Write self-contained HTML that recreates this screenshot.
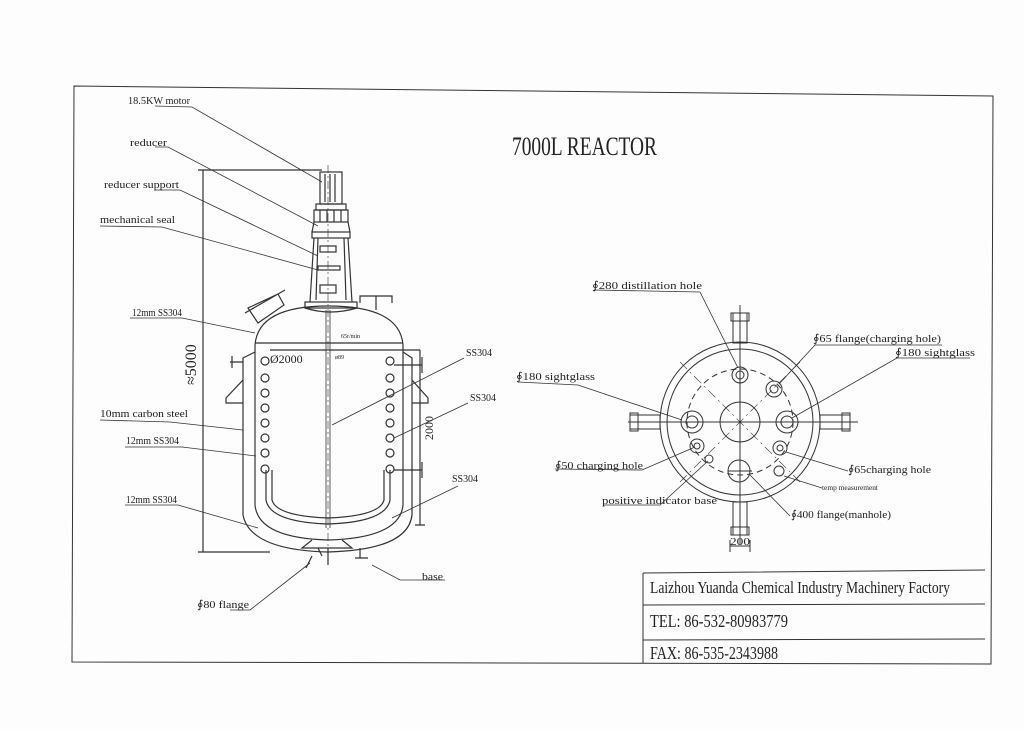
<!DOCTYPE html>
<html><head><meta charset="utf-8"><style>
html,body{margin:0;padding:0;background:#fff;}
svg{display:block}
text{font-family:"Liberation Serif",serif;fill:#222;}
</style></head><body>
<svg width="1024" height="729" viewBox="0 0 1024 729" xmlns="http://www.w3.org/2000/svg">
<rect width="1024" height="729" fill="#fdfdfd"/>
<g stroke="#333" fill="none" stroke-width="1">
<!-- frame -->
<path d="M74 86 L993 96 L991 664 L72 662 Z"/>
<!-- title block -->
<path d="M643 573 L643 663 M643 573 L985 570 M643 605 L985 604 M643 640 L985 639"/>
</g>
<text x="512" y="155" font-size="26" textLength="145" lengthAdjust="spacingAndGlyphs">7000L REACTOR</text>
<text x="650" y="593" font-size="17" textLength="300" lengthAdjust="spacingAndGlyphs">Laizhou Yuanda Chemical Industry Machinery Factory</text>
<text x="650" y="627" font-size="18" textLength="138" lengthAdjust="spacingAndGlyphs">TEL: 86-532-80983779</text>
<text x="650" y="659" font-size="18" textLength="128" lengthAdjust="spacingAndGlyphs">FAX: 86-535-2343988</text>

<!-- side view reactor -->
<g stroke="#333" fill="none" stroke-width="1.2">
<!-- dimension 5000 -->
<path d="M203 170 L203 552 M198 170 L322 170 M198 552 L270 552"/>
<!-- motor -->
<rect x="320" y="172" width="22" height="32"/>
<path d="M325 174 V202 M330 174 V202 M335 174 V202"/>
<rect x="316" y="204" width="30" height="6"/>
<rect x="314" y="210" width="34" height="12"/>
<path d="M320 210 V222 M327 210 V222 M334 210 V222 M341 210 V222"/>
<rect x="312" y="232" width="38" height="6"/>
<path d="M314 222 L312 232 M348 222 L350 232"/>
<!-- support -->
<path d="M314 238 L310 302 M348 238 L352 302 M318 238 L316 300 M344 238 L346 300"/>
<rect x="320" y="246" width="16" height="6"/><rect x="318" y="266" width="22" height="4"/><rect x="320" y="285" width="16" height="8"/>
<rect x="305" y="302" width="52" height="6"/>
<path d="M305 308 Q330 316 357 308"/>
<!-- head -->
<path d="M255 345 Q258 306 328 306 Q400 306 403 345"/>
<!-- shell -->
<path d="M255 345 V505 Q258 538 328 540 Q400 538 403 505 V345"/>
<!-- jacket -->
<path d="M255 352 L243 358 V515 Q250 550 328 552 Q408 550 412 515 V358 L403 352"/>
<path d="M255 343 H403"/>
<!-- shaft -->
<path d="M326 310 V528 M330 310 V528" stroke-width="0.8"/>
<path d="M328 165 V560" stroke-dasharray="8 3 2 3" stroke-width="0.6"/>
<!-- coil -->
<path d="M266 470 V500 Q270 522 328 524 Q386 522 390 500 V470"/>
<path d="M272 470 V500 Q276 516 328 518 Q380 516 384 500 V470"/>
<!-- holes -->
<g>
<circle cx="265" cy="361" r="4"/><circle cx="265" cy="378" r="4"/><circle cx="265" cy="393" r="4"/><circle cx="265" cy="408" r="4"/><circle cx="265" cy="423" r="4"/><circle cx="265" cy="438" r="4"/><circle cx="265" cy="453" r="4"/><circle cx="265" cy="469" r="4"/>
<circle cx="390" cy="361" r="4"/><circle cx="390" cy="378" r="4"/><circle cx="390" cy="393" r="4"/><circle cx="390" cy="408" r="4"/><circle cx="390" cy="423" r="4"/><circle cx="390" cy="438" r="4"/><circle cx="390" cy="453" r="4"/><circle cx="390" cy="469" r="4"/>
</g>
<!-- nozzles -->
<path d="M230 362 H243 M232 356 V368 M394 365 H422 M422 357 V373 M394 470 H422 M422 462 V478"/>
<path d="M243 380 L226 398 V403 H243 M412 380 L428 398 V403 H412"/>
<path d="M360 303 V296 H392 V303 M376 296 V310"/>
<path d="M258 323 L248 308 L278 294 L284 305 Z M245 313 L285 290"/>
<!-- bottom -->
<path d="M312 540 L302 548 H352 L342 540 M318 548 L322 556 M328 548 V565 M312 556 L306 568 M360 548 V558 M355 558 H368"/>
<path d="M270 350 H420 M420 350 V525 M415 525 H425"/>
</g>
<text x="196" y="385" font-size="16" transform="rotate(-90 196 385)" fill="#333">≈5000</text>
<text x="270" y="363" font-size="12" fill="#333">Ø2000</text>
<text x="335" y="359" font-size="6" fill="#333">ø89</text>
<text x="341" y="338" font-size="6" fill="#333">65r/min</text>
<text x="433" y="440" font-size="12" transform="rotate(-90 433 440)" fill="#333">2000</text>

<!-- leader lines side -->
<g stroke="#333" stroke-width="0.8" fill="none">
<path d="M155 106 L192 107 L322 182"/>
<path d="M155 147 L168 147 L318 226"/>
<path d="M155 190 L180 190 L318 256"/>
<path d="M100 226 L162 227 L318 270"/>
<path d="M130 318 L182 318 L255 333"/>
<path d="M100 420 L170 422 L243 430"/>
<path d="M125 447 L182 447 L256 456"/>
<path d="M125 505 L178 505 L258 528"/>
<path d="M464 358 L332 425"/>
<path d="M468 403 L394 438"/>
<path d="M458 486 L392 518"/>
<path d="M230 610 L250 610 L310 563"/>
<path d="M445 580 L400 580 L372 565"/>
</g>
<g font-size="11">
<text x="128" y="104" textLength="62" lengthAdjust="spacingAndGlyphs">18.5KW motor</text>
<text x="130" y="146" textLength="37" lengthAdjust="spacingAndGlyphs">reducer</text>
<text x="104" y="188" textLength="75" lengthAdjust="spacingAndGlyphs">reducer support</text>
<text x="100" y="223" textLength="75" lengthAdjust="spacingAndGlyphs">mechanical seal</text>
<text x="132" y="316" textLength="50" lengthAdjust="spacingAndGlyphs">12mm SS304</text>
<text x="100" y="417" textLength="88" lengthAdjust="spacingAndGlyphs">10mm carbon steel</text>
<text x="126" y="444" textLength="53" lengthAdjust="spacingAndGlyphs">12mm SS304</text>
<text x="126" y="503" textLength="51" lengthAdjust="spacingAndGlyphs">12mm SS304</text>
<text x="466" y="356" textLength="26" lengthAdjust="spacingAndGlyphs">SS304</text>
<text x="470" y="401" textLength="26" lengthAdjust="spacingAndGlyphs">SS304</text>
<text x="452" y="482" textLength="26" lengthAdjust="spacingAndGlyphs">SS304</text>
<text x="197" y="608" textLength="52" lengthAdjust="spacingAndGlyphs">∮80 flange</text>
<text x="422" y="580" textLength="21" lengthAdjust="spacingAndGlyphs">base</text>
</g>

<!-- top view -->
<g stroke="#333" fill="none" stroke-width="1">
<circle cx="740" cy="422" r="80"/>
<circle cx="740" cy="422" r="73"/>
<circle cx="740" cy="422" r="53" stroke-dasharray="6 4"/>
<circle cx="740" cy="422" r="20"/>
<path d="M628 422 H858 M740 305 V545"/>
<path d="M680 362 L800 482 M800 362 L680 482" stroke-dasharray="10 4 2 4" stroke-width="0.6"/>
<rect x="733" y="313" width="14" height="30"/><rect x="731" y="313" width="18" height="8"/>
<rect x="733" y="502" width="14" height="33"/><rect x="731" y="527" width="18" height="8"/>
<rect x="630" y="415" width="30" height="14"/><rect x="630" y="413" width="8" height="18"/>
<rect x="820" y="415" width="30" height="14"/><rect x="842" y="413" width="8" height="18"/>
<path d="M730 540 V552 M750 540 V552 M730 546 H750"/>
<circle cx="740" cy="375" r="8"/><circle cx="740" cy="375" r="4"/>
<circle cx="774" cy="389" r="8"/><circle cx="774" cy="389" r="4"/>
<circle cx="692" cy="422" r="11"/><circle cx="692" cy="422" r="6"/>
<circle cx="787" cy="422" r="11"/><circle cx="787" cy="422" r="6"/>
<circle cx="697" cy="446" r="7"/><circle cx="697" cy="446" r="3"/>
<circle cx="780" cy="448" r="7"/><circle cx="780" cy="448" r="3"/>
<circle cx="709" cy="459" r="4"/>
<circle cx="739" cy="471" r="11"/><path d="M728 471 H752"/>
<circle cx="779" cy="471" r="5"/>
</g>
<g stroke="#333" stroke-width="0.8" fill="none">
<path d="M594 290 L700 292 L738 368"/>
<path d="M815 345 L942 345 M815 345 L779 384"/>
<path d="M897 358 L970 358 M897 358 L792 418"/>
<path d="M518 382 L578 385 L682 420"/>
<path d="M555 469 L642 470 L695 447"/>
<path d="M603 505 L660 505 L708 461"/>
<path d="M848 471 L786 452"/>
<path d="M822 488 L784 476"/>
<path d="M790 516 L750 475"/>
</g>
<g font-size="11">
<text x="592" y="289" textLength="110" lengthAdjust="spacingAndGlyphs">∮280 distillation hole</text>
<text x="813" y="342" textLength="128" lengthAdjust="spacingAndGlyphs">∮65 flange(charging hole)</text>
<text x="895" y="356" textLength="80" lengthAdjust="spacingAndGlyphs">∮180 sightglass</text>
<text x="516" y="380" textLength="79" lengthAdjust="spacingAndGlyphs">∮180 sightglass</text>
<text x="555" y="469" textLength="88" lengthAdjust="spacingAndGlyphs">∮50 charging hole</text>
<text x="848" y="473" textLength="83" lengthAdjust="spacingAndGlyphs">∮65charging hole</text>
<text x="822" y="490" font-size="7" textLength="56" lengthAdjust="spacingAndGlyphs">temp measurement</text>
<text x="602" y="504" textLength="115" lengthAdjust="spacingAndGlyphs">positive indicator base</text>
<text x="791" y="518" textLength="100" lengthAdjust="spacingAndGlyphs">∮400 flange(manhole)</text>
<text x="730" y="545" font-size="10" textLength="20" lengthAdjust="spacingAndGlyphs">200</text>
</g>
</svg>
</body></html>
